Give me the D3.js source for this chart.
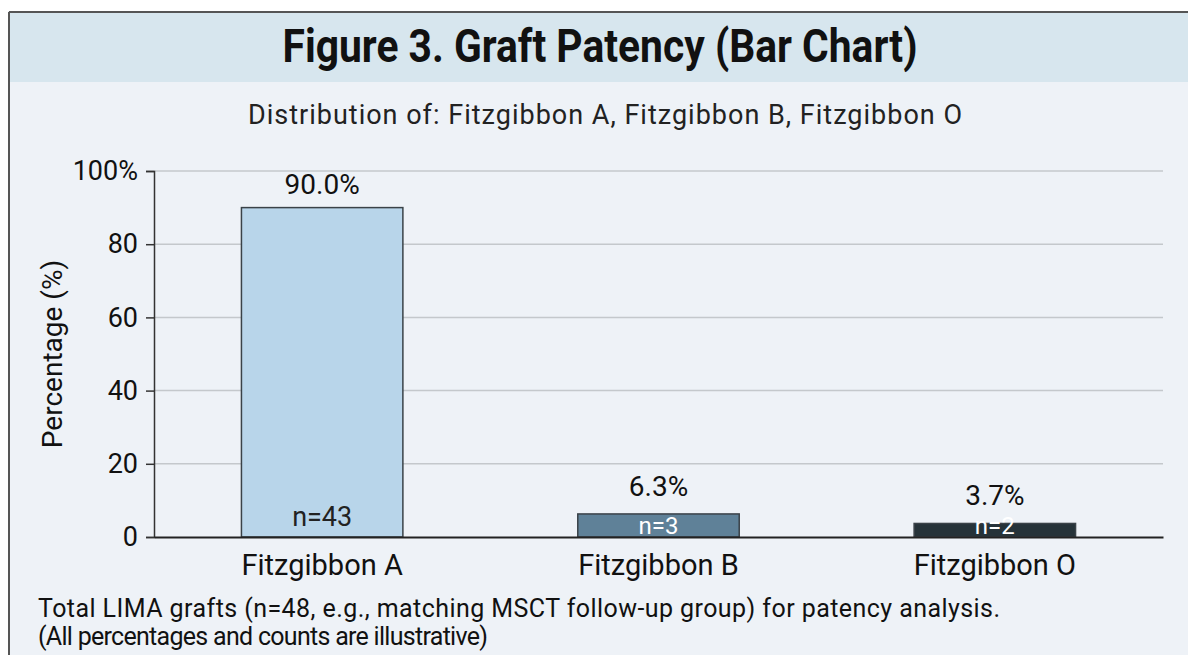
<!DOCTYPE html>
<html>
<head>
<meta charset="utf-8">
<script src="https://cdn.jsdelivr.net/npm/d3@7"></script>
<style>
  body { margin: 0; background: #eef2f7; }
  svg { display: block; font-family: Roboto, "Noto Sans", sans-serif; }
</style>
</head>
<body>
<svg id="chart" width="1188" height="655"></svg>
<script>
// chart data
const categories = ["Fitzgibbon A", "Fitzgibbon B", "Fitzgibbon O"];
const percents = [90.0, 6.3, 3.7];
const counts = [43, 3, 2];
const yTicks = [0, 20, 40, 60, 80, 100];
const barColors = ["#b8d5ea", "#5f8198", "#263339"];
const countColors = ["#222", "#fff", "#fff"];

const data = categories.map((c, i) => ({ name: c, pct: percents[i], n: counts[i], fill: barColors[i], ncol: countColors[i] }));

const svg = d3.select("#chart");
const width = 1188, height = 655;
const margin = { top: 171, right: 25, bottom: 118, left: 154 };
const innerW = width - margin.left - margin.right;
const innerH = height - margin.top - margin.bottom;

// background + header band
svg.append("rect").attr("width", width).attr("height", height).attr("fill", "#eef2f7");
svg.append("rect").attr("x", 0).attr("y", 0).attr("width", width).attr("height", 11).attr("fill", "#ffffff");
svg.append("rect").attr("x", 0).attr("y", 0).attr("width", 8).attr("height", height).attr("fill", "#ffffff");
svg.append("rect").attr("x", 9).attr("y", 12).attr("width", width - 9).attr("height", 70).attr("fill", "#d7e6ee");
svg.append("line").attr("x1", 9).attr("x2", width).attr("y1", 12).attr("y2", 12).attr("stroke", "#555").attr("stroke-width", 2);
svg.append("line").attr("x1", 9).attr("x2", 9).attr("y1", 12).attr("y2", height).attr("stroke", "#555").attr("stroke-width", 2);

svg.append("text")
  .attr("x", 600).attr("y", 62)
  .attr("text-anchor", "middle")
  .attr("font-size", 46).attr("font-weight", 700)
  .attr("textLength", 635).attr("lengthAdjust", "spacingAndGlyphs")
  .attr("fill", "#111")
  .text("Figure 3. Graft Patency (Bar Chart)");

svg.append("text")
  .attr("x", 605).attr("y", 124)
  .attr("text-anchor", "middle")
  .attr("font-size", 27)
  .attr("textLength", 714)
  .attr("fill", "#222")
  .text("Distribution of: Fitzgibbon A, Fitzgibbon B, Fitzgibbon O");

const g = svg.append("g").attr("transform", "translate(" + margin.left + "," + margin.top + ")");

const x = d3.scaleBand()
  .domain(categories)
  .range([0, innerW])
  .paddingInner(0.52)
  .paddingOuter(0.26);

const y = d3.scaleLinear()
  .domain([0, 100])
  .range([innerH, 0]);

const isTall = d => innerH - y(d.pct) > 60;

// grid lines
g.append("g")
  .selectAll("line")
  .data(yTicks.filter(t => t > 0))
  .enter()
  .append("line")
  .attr("x1", 0).attr("x2", innerW)
  .attr("y1", d => y(d)).attr("y2", d => y(d))
  .attr("stroke", "#c4c8cc").attr("stroke-width", 1.5);

// y axis
const yAxis = g.append("g")
  .call(d3.axisLeft(y).tickValues(yTicks).tickSize(8).tickPadding(8)
    .tickFormat(d => d === 100 ? "100%" : d));
yAxis.select(".domain").attr("stroke", "#333").attr("stroke-width", 1.5);
yAxis.selectAll(".tick line").attr("stroke", "#333").attr("stroke-width", 1.5);
yAxis.selectAll("text").attr("font-size", 27).attr("fill", "#111").attr("font-family", "Roboto, sans-serif");

// bars
g.selectAll(".bar")
  .data(data)
  .enter()
  .append("rect")
  .attr("class", "bar")
  .attr("x", d => x(d.name))
  .attr("y", d => y(d.pct))
  .attr("width", x.bandwidth())
  .attr("height", d => innerH - y(d.pct))
  .attr("fill", d => d.fill)
  .attr("stroke", "#3a4248")
  .attr("stroke-width", 1.5);

// percent labels
g.selectAll(".pct")
  .data(data)
  .enter()
  .append("text")
  .attr("x", d => x(d.name) + x.bandwidth() / 2)
  .attr("y", d => y(d.pct) - (isTall(d) ? 14 : 18))
  .attr("text-anchor", "middle")
  .attr("font-size", 28)
  .attr("fill", "#111")
  .text(d => d.pct.toFixed(1) + "%");

// count labels (small bars: label sits lower)
g.selectAll(".cnt")
  .data(data)
  .enter()
  .append("text")
  .attr("x", d => x(d.name) + x.bandwidth() / 2)
  .attr("y", d => innerH - (isTall(d) ? 11 : 3))
  .attr("text-anchor", "middle")
  .attr("font-size", d => (isTall(d) ? 27 : 24))
  .attr("fill", d => d.ncol)
  .text(d => "n=" + d.n);

// x axis baseline + labels
const xAxis = g.append("g")
  .attr("transform", "translate(0," + innerH + ")")
  .call(d3.axisBottom(x).tickSize(0).tickPadding(18));
xAxis.select(".domain").attr("stroke", "#222").attr("stroke-width", 2);
xAxis.selectAll("text").attr("font-size", 29).attr("fill", "#111").attr("font-family", "Roboto, sans-serif")
  .attr("dy", "0.7em");

// y label
svg.append("text")
  .attr("transform", "translate(62,354) rotate(-90)")
  .attr("text-anchor", "middle")
  .attr("font-size", 28)
  .attr("fill", "#111")
  .text("Percentage (%)");

// footnote
svg.append("text")
  .attr("x", 38).attr("y", 617)
  .attr("font-size", 25)
  .attr("textLength", 962)
  .attr("fill", "#111")
  .text("Total LIMA grafts (n=48, e.g., matching MSCT follow-up group) for patency analysis.");
svg.append("text")
  .attr("x", 38).attr("y", 645)
  .attr("font-size", 25)
  .attr("textLength", 450)
  .attr("fill", "#111")
  .text("(All percentages and counts are illustrative)");
</script>
</body>
</html>
